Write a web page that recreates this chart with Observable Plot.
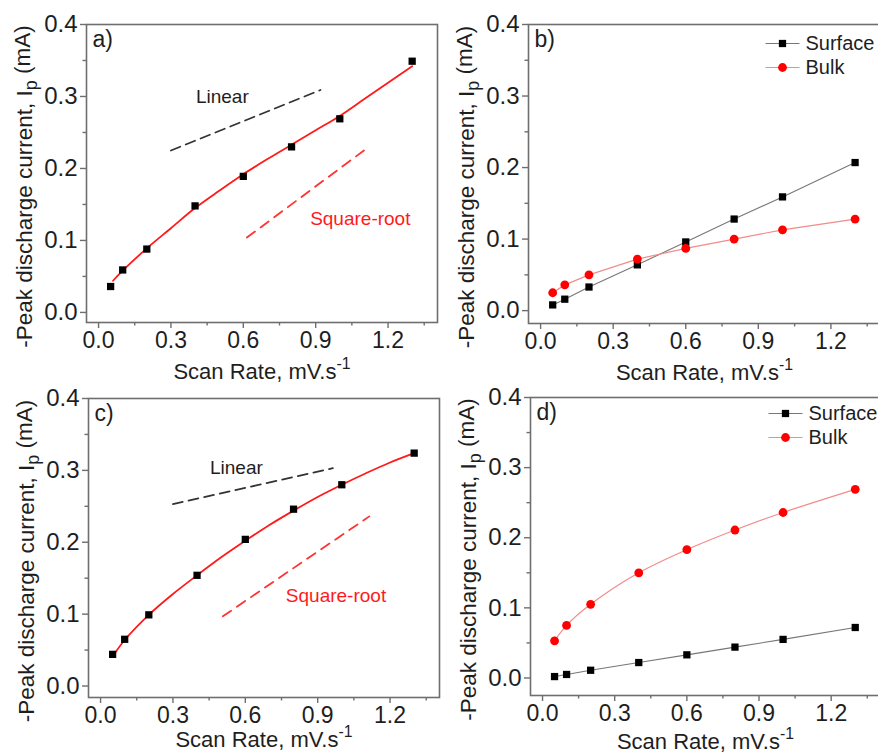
<!DOCTYPE html>
<html>
<head>
<meta charset="utf-8">
<script src="https://cdn.jsdelivr.net/npm/d3@7"></script>
<script src="https://cdn.jsdelivr.net/npm/@observablehq/plot@0.6"></script>
<style>
html, body { margin: 0; padding: 0; background: #fff; overflow: hidden; }
#root { position: relative; width: 878px; height: 755px; overflow: hidden; background: #fff; }
.panel { position: absolute; }
.panel svg { overflow: visible; }
</style>
</head>
<body>
<div id="root"></div>
<script>
// ---------- data ----------
const scanRates = [0.05, 0.1, 0.2, 0.4, 0.6, 0.8, 1.0, 1.3];

// panel a
const peakA = [0.036, 0.059, 0.088, 0.148, 0.189, 0.230, 0.269, 0.349];
const fitX = [0.06, 0.1, 0.2, 0.3, 0.4, 0.5, 0.6, 0.7, 0.8, 0.9, 1.0, 1.1, 1.2, 1.3];
const fitA = [0.044, 0.058, 0.089, 0.117, 0.145, 0.169, 0.192, 0.213, 0.233, 0.253, 0.273, 0.296, 0.319, 0.342];
const linearAX = [0.30, 0.92], linearAY = [0.225, 0.309];
const sqrtAX = [0.615, 1.10], sqrtAY = [0.104, 0.225];

// panel b
const surfaceB = [0.008, 0.016, 0.033, 0.064, 0.096, 0.128, 0.159, 0.207];
const bulkB = [0.025, 0.036, 0.050, 0.072, 0.087, 0.100, 0.113, 0.128];

// panel c
const peakC = [0.044, 0.065, 0.099, 0.154, 0.204, 0.246, 0.280, 0.324];
const fitC = [0.046, 0.064, 0.099, 0.128, 0.154, 0.179, 0.202, 0.224, 0.244, 0.263, 0.280, 0.296, 0.311, 0.324];
const linearCX = [0.30, 0.963], linearCY = [0.253, 0.303];
const sqrtCX = [0.507, 1.114], sqrtCY = [0.097, 0.236];

// panel d
const surfaceD = [0.002, 0.005, 0.011, 0.022, 0.033, 0.044, 0.055, 0.072];
const bulkD = [0.053, 0.075, 0.105, 0.150, 0.183, 0.211, 0.236, 0.269];

// texts and ticks
const panelLabels = ["a)", "b)", "c)", "d)"];
const seriesNames = ["Surface", "Bulk"];
const guideNames = ["Linear", "Square-root"];
const guideLabelA = [{x: 0.513, y: 0.300}, {x: 1.085, y: 0.130}];
const guideLabelC = [{x: 0.563, y: 0.304}, {x: 0.976, y: 0.1255}];
const xTicks = [0, 0.3, 0.6, 0.9, 1.2];
const xMinor = [0.15, 0.45, 0.75, 1.05, 1.35];
const yTicks = [0, 0.1, 0.2, 0.3, 0.4];
const yMinor = [0.05, 0.15, 0.25, 0.35];
const X_TITLE = "Scan Rate, mV.s-1";
const Y_TITLE = "-Peak discharge current, Ip (mA)";

// ---------- helpers ----------
const FONT = '"Liberation Sans", Arial, Helvetica, sans-serif';
const FRAME = "#6e6e6e";
const TXT = "#1e1e1e";
const RED = "#ff1a1a";
const zip = (xs, ys) => xs.map((x, i) => ({x, y: ys[i]}));
const fmt = d3.format(".1f");
const legendLine = {draw(ctx) { ctx.moveTo(-17, 0); ctx.lineTo(17, 0); }};

function axisMarks(titleDy) {
  return [
    Plot.frame({stroke: FRAME, strokeWidth: 1.6}),
    Plot.axisX(xTicks, {anchor: "bottom", tickSize: 6, tickPadding: 3, tickFormat: fmt, fontSize: 23, stroke: FRAME, strokeWidth: 1.4, fill: TXT, label: null}),
    Plot.axisX(xMinor, {anchor: "bottom", tickSize: 3.5, tickFormat: () => "", stroke: FRAME, strokeWidth: 1.4, label: null}),
    Plot.axisY(yTicks, {anchor: "left", tickSize: 6, tickPadding: 3, tickFormat: fmt, fontSize: 24, stroke: FRAME, strokeWidth: 1.4, fill: TXT, label: null}),
    Plot.axisY(yMinor, {anchor: "left", tickSize: 3.5, tickFormat: () => "", stroke: FRAME, strokeWidth: 1.4, label: null}),
    Plot.text([X_TITLE], {frameAnchor: "bottom", dy: titleDy, lineAnchor: "bottom", fontSize: 22, fill: TXT, fontFamily: FONT}),
    Plot.text([Y_TITLE], {frameAnchor: "left", dx: -62, dy: 13, rotate: -90, textAnchor: "middle", lineAnchor: "middle", fontSize: 22.5, fill: TXT, fontFamily: FONT})
  ];
}

function panelLabel(t) {
  return Plot.text([t], {frameAnchor: "top-left", dx: 6, dy: 6, textAnchor: "start", lineAnchor: "top", fontSize: 23, fill: TXT, fontFamily: FONT});
}

function legendMarks(dx, dy) {
  return [
    Plot.dot([0], {frameAnchor: "top-right", dx: dx, dy: dy, symbol: legendLine, r: 1, stroke: "#777", strokeWidth: 1.1, fill: "none"}),
    Plot.dot([0], {frameAnchor: "top-right", dx: dx, dy: dy, symbol: "square", r: 4.1, fill: "#000"}),
    Plot.text([seriesNames[0]], {frameAnchor: "top-right", dx: dx + 23, dy: dy, textAnchor: "start", lineAnchor: "middle", fontSize: 20, fill: TXT, fontFamily: FONT}),
    Plot.dot([0], {frameAnchor: "top-right", dx: dx, dy: dy + 24, symbol: legendLine, r: 1, stroke: "#f28b8b", strokeWidth: 1.1, fill: "none"}),
    Plot.dot([0], {frameAnchor: "top-right", dx: dx, dy: dy + 24, r: 4.4, fill: "#ff0000"}),
    Plot.text([seriesNames[1]], {frameAnchor: "top-right", dx: dx + 23, dy: dy + 24, textAnchor: "start", lineAnchor: "middle", fontSize: 20, fill: TXT, fontFamily: FONT})
  ];
}

function fitPanelMarks(peak, fit, linX, linY, sqX, sqY, labelPos) {
  return [
    Plot.line(zip(linX, linY), {x: "x", y: "y", stroke: "#333", strokeWidth: 1.8, strokeDasharray: "10,6"}),
    Plot.line(zip(sqX, sqY), {x: "x", y: "y", stroke: "#ff3333", strokeWidth: 1.8, strokeDasharray: "10,7"}),
    Plot.text(labelPos.map((p, i) => ({...p, t: guideNames[i]})), {x: "x", y: "y", text: "t", fill: (d, i) => i === 0 ? TXT : RED, fontSize: 19, fontFamily: FONT}),
    Plot.line(zip(fitX, fit), {x: "x", y: "y", stroke: RED, strokeWidth: 1.8, curve: "catmull-rom"}),
    Plot.dot(zip(scanRates, peak), {x: "x", y: "y", symbol: "square", r: 4.1, fill: "#000"})
  ];
}

function seriesPanelMarks(surf, bulk, bulkCurve) {
  return [
    Plot.line(zip(scanRates, surf), {x: "x", y: "y", stroke: "#777", strokeWidth: 1.1}),
    Plot.line(zip(scanRates, bulk), {x: "x", y: "y", stroke: "#f28b8b", strokeWidth: 1.2, curve: bulkCurve}),
    Plot.dot(zip(scanRates, surf), {x: "x", y: "y", symbol: "square", r: 4.1, fill: "#000"}),
    Plot.dot(zip(scanRates, bulk), {x: "x", y: "y", r: 4.4, fill: "#ff0000"})
  ];
}

function fixTexts(svg) {
  d3.select(svg).selectAll("text").each(function() {
    const s = d3.select(this);
    if (this.textContent === Y_TITLE) {
      s.text(null);
      s.append("tspan").text("-Peak discharge current, I");
      s.append("tspan").attr("dy", "0.28em").attr("font-size", "80%").text("p");
      s.append("tspan").attr("dy", "-0.28em").text(" (mA)");
    } else if (this.textContent === X_TITLE) {
      s.text(null);
      s.append("tspan").text("Scan Rate, mV.s");
      s.append("tspan").attr("dy", "-0.6em").attr("font-size", "72%").text("-1");
    }
  });
}

function addPanel(cfg) {
  const svg = Plot.plot({
    width: cfg.width,
    height: cfg.height,
    marginLeft: cfg.ml, marginRight: cfg.mr, marginTop: cfg.mt, marginBottom: cfg.mb,
    x: {domain: cfg.xd},
    y: {domain: cfg.yd},
    style: {background: "transparent", overflow: "visible", fontFamily: FONT, color: TXT, maxWidth: "none"},
    marks: [...cfg.marks, ...axisMarks(cfg.titleDy)]
  });
  fixTexts(svg);
  const div = document.createElement("div");
  div.className = "panel";
  div.style.left = cfg.left + "px";
  div.style.top = cfg.top + "px";
  div.appendChild(svg);
  document.getElementById("root").appendChild(div);
}

// ---------- panels ----------
addPanel({
  left: 0, top: 0, width: 440, height: 375, ml: 86, mr: 3, mt: 24, mb: 53,
  xd: [-0.05, 1.405], yd: [-0.014, 0.4], titleDy: 56,
  marks: [...fitPanelMarks(peakA, fitA, linearAX, linearAY, sqrtAX, sqrtAY, guideLabelA), panelLabel(panelLabels[0])]
});

addPanel({
  left: 440, top: 0, width: 440, height: 375, ml: 88, mr: 0, mt: 24, mb: 52,
  xd: [-0.05, 1.405], yd: [-0.018, 0.4], titleDy: 56,
  marks: [...seriesPanelMarks(surfaceB, bulkB, "linear"), panelLabel(panelLabels[1]), ...legendMarks(-98, 19)]
});

addPanel({
  left: 0, top: 375, width: 440, height: 380, ml: 88, mr: 1, mt: 23, mb: 58,
  xd: [-0.05, 1.405], yd: [-0.016, 0.4], titleDy: 49,
  marks: [...fitPanelMarks(peakC, fitC, linearCX, linearCY, sqrtCX, sqrtCY, guideLabelC), panelLabel(panelLabels[2])]
});

addPanel({
  left: 440, top: 375, width: 440, height: 380, ml: 90, mr: 0, mt: 22, mb: 60,
  xd: [-0.05, 1.405], yd: [-0.025, 0.4], titleDy: 53,
  marks: [...seriesPanelMarks(surfaceD, bulkD, "catmull-rom"), panelLabel(panelLabels[3]), ...legendMarks(-95, 16)]
});
</script>
</body>
</html>
